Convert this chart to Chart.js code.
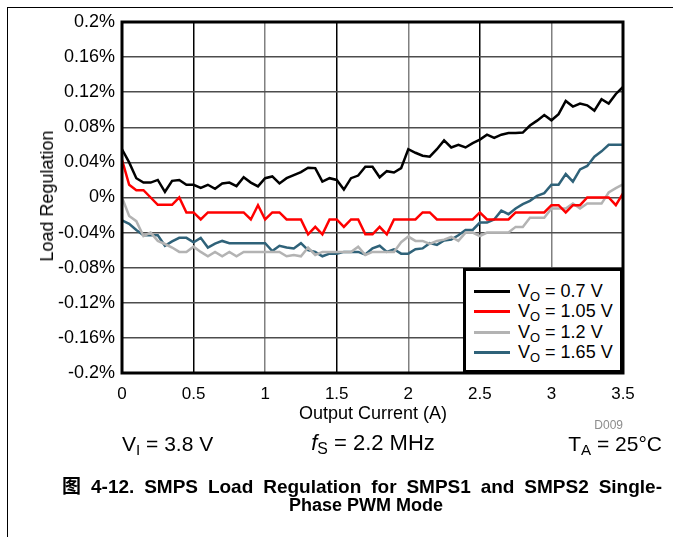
<!DOCTYPE html>
<html>
<head>
<meta charset="utf-8">
<script src="https://cdn.jsdelivr.net/npm/chart.js@4/dist/chart.umd.min.js"></script>
<style>
  html, body { margin: 0; padding: 0; background: #fff; }
  body { width: 673px; height: 537px; position: relative; overflow: hidden; font-family: "Liberation Sans", Arial, sans-serif; color: #000; }
  #c { position: absolute; left: 0; top: 0; }
  .t { position: absolute; white-space: nowrap; line-height: 1; }
  .frameTop { position: absolute; left: 7px; top: 7px; width: 666px; height: 1px; background: #000; }
  .frameLeft { position: absolute; left: 7px; top: 7px; width: 1px; height: 530px; background: #000; }
  #legend { position: absolute; left: 463px; top: 268px; width: 154px; height: 99px; background: #fff; border: 3px solid #000; }
  .lrow { position: absolute; left: 0; height: 20px; width: 150px; }
  .lline { position: absolute; left: 8px; top: 9px; width: 36px; height: 3px; }
  .ltxt { position: absolute; left: 52px; top: 1px; font-size: 18px; line-height: 1; white-space: nowrap; }
  sub { font-size: 0.72em; vertical-align: -0.28em; line-height: 0; }
  .cap { position: absolute; font-weight: bold; font-size: 19px; line-height: 18px; white-space: nowrap;
         font-family: "Liberation Sans", Arial, "Noto Sans CJK SC", sans-serif; }
  #cap1 { left: 662px; top: 478px; transform: translateX(-100%); word-spacing: 4.6px; }
  #cap2 { left: 366px; top: 496px; transform: translateX(-50%); font-size: 18px; }
</style>
</head>
<body>
<canvas id="c" width="673" height="537"></canvas>
<div class="frameTop"></div>
<div class="frameLeft"></div>
<div class="cap" id="cap1">图 4-12. SMPS Load Regulation for SMPS1 and SMPS2 Single-</div>
<div class="cap" id="cap2">Phase PWM Mode</div>

<script>
// ---------------- DATA ----------------
const currents = [0, 0.05, 0.1, 0.15, 0.2, 0.25, 0.3, 0.35, 0.4, 0.45,
  0.5, 0.55, 0.6, 0.65, 0.7, 0.75, 0.8, 0.85, 0.9, 0.95,
  1.0, 1.05, 1.1, 1.15, 1.2, 1.25, 1.3, 1.35, 1.4, 1.45,
  1.5, 1.55, 1.6, 1.65, 1.7, 1.75, 1.8, 1.85, 1.9, 1.95,
  2.0, 2.05, 2.1, 2.15, 2.2, 2.25, 2.3, 2.35, 2.4, 2.45,
  2.5, 2.55, 2.6, 2.65, 2.7, 2.75, 2.8, 2.85, 2.9, 2.95,
  3.0, 3.05, 3.1, 3.15, 3.2, 3.25, 3.3, 3.35, 3.4, 3.45, 3.5];

const vo070 = [0.055, 0.040, 0.022, 0.017, 0.017, 0.020, 0.0065, 0.019, 0.020, 0.0145,
  0.0145, 0.011, 0.0145, 0.010, 0.016, 0.017, 0.013, 0.023, 0.017, 0.0126,
  0.022, 0.024, 0.016, 0.022, 0.0255, 0.029, 0.034, 0.0335, 0.018, 0.022,
  0.020, 0.009, 0.022, 0.025, 0.035, 0.035, 0.023, 0.030, 0.0285, 0.0335,
  0.055, 0.051, 0.0476, 0.0465, 0.055, 0.065, 0.057, 0.060, 0.057, 0.062,
  0.066, 0.0716, 0.068, 0.0716, 0.0735, 0.0735, 0.074, 0.082, 0.0876, 0.094,
  0.088, 0.095, 0.110, 0.1036, 0.107, 0.105, 0.099, 0.112, 0.107, 0.118, 0.126];

const vo105 = [0.043, 0.0145, 0.0084, 0.0084, 0, -0.0084, -0.0084, -0.0084, 0, -0.017,
  -0.017, -0.025, -0.017, -0.017, -0.017, -0.017, -0.017, -0.017, -0.025, -0.0088,
  -0.025, -0.017, -0.017, -0.025, -0.025, -0.025, -0.042, -0.0335, -0.042, -0.025,
  -0.025, -0.0335, -0.025, -0.025, -0.042, -0.042, -0.0335, -0.042, -0.025, -0.025,
  -0.025, -0.025, -0.017, -0.017, -0.025, -0.025, -0.025, -0.025, -0.025, -0.025,
  -0.017, -0.025, -0.025, -0.025, -0.025, -0.017, -0.017, -0.017, -0.017, -0.017,
  -0.0088, -0.0088, -0.017, -0.0088, -0.0088, 0, 0, 0, 0, -0.0088, 0.0046];

const vo120 = [0, -0.021, -0.027, -0.044, -0.040, -0.0495, -0.053, -0.057, -0.062, -0.062,
  -0.056, -0.062, -0.067, -0.062, -0.067, -0.062, -0.067, -0.062, -0.062, -0.062,
  -0.062, -0.062, -0.062, -0.067, -0.0655, -0.067, -0.057, -0.0655, -0.062, -0.062,
  -0.062, -0.062, -0.062, -0.056, -0.0655, -0.062, -0.062, -0.062, -0.062, -0.051,
  -0.0446, -0.0495, -0.0495, -0.053, -0.0495, -0.048, -0.045, -0.0495, -0.040, -0.040,
  -0.044, -0.040, -0.040, -0.040, -0.040, -0.0335, -0.0335, -0.023, -0.023, -0.023,
  -0.0126, -0.0126, -0.0126, -0.0069, -0.0126, -0.0069, -0.0069, -0.0069, 0.0057, 0.0107, 0.015];

const vo165 = [-0.026, -0.030, -0.037, -0.043, -0.043, -0.043, -0.055, -0.050, -0.046, -0.046,
  -0.051, -0.046, -0.057, -0.0526, -0.0495, -0.052, -0.052, -0.052, -0.052, -0.052,
  -0.052, -0.061, -0.055, -0.057, -0.058, -0.052, -0.060, -0.062, -0.067, -0.064,
  -0.064, -0.062, -0.062, -0.062, -0.065, -0.058, -0.055, -0.062, -0.059, -0.064,
  -0.064, -0.059, -0.058, -0.052, -0.054, -0.049, -0.048, -0.043, -0.037, -0.037,
  -0.0286, -0.0286, -0.025, -0.015, -0.019, -0.0126, -0.0076, -0.0038, 0.002, 0.005,
  0.0145, 0.0145, 0.0267, 0.018, 0.032, 0.036, 0.0465, 0.0526, 0.060, 0.060, 0.060];

const seriesNames = ['0.7 V', '1.05 V', '1.2 V', '1.65 V'];
const seriesValues = [vo070, vo105, vo120, vo165];
const seriesColors = ['#000000', '#ff0000', '#b3b3b3', '#2f6279'];

const xTickValues = [0, 0.5, 1, 1.5, 2, 2.5, 3, 3.5];
const yTickValues = [-0.2, -0.16, -0.12, -0.08, -0.04, 0, 0.04, 0.08, 0.12, 0.16, 0.2];
const xTitle = 'Output Current (A)';
const yTitle = 'Load Regulation';

// ---------------- CHART ----------------
const datasets = seriesValues.map((vals, k) => ({
  label: 'VO = ' + seriesNames[k],
  data: vals.map((v, i) => ({ x: currents[i], y: v })),
  borderColor: seriesColors[k],
  backgroundColor: seriesColors[k],
  borderWidth: 2.5,
  pointRadius: 0,
  tension: 0,
  fill: false
}));

const framePlugin = {
  id: 'frame',
  afterDatasetsDraw(chart) {
    const { ctx, chartArea: a } = chart;
    ctx.save();
    ctx.strokeStyle = '#000';
    ctx.lineWidth = 3;
    ctx.strokeRect(a.left, a.top, a.right - a.left, a.bottom - a.top);
    ctx.restore();
  }
};

const fam = '"Liberation Sans", Arial, sans-serif';

new Chart(document.getElementById('c'), {
  type: 'line',
  data: { datasets },
  options: {
    responsive: false,
    animation: false,
    devicePixelRatio: 1,
    layout: { padding: { left: 0, top: 22, right: 50, bottom: 0 } },
    plugins: { legend: { display: false }, tooltip: { enabled: false } },
    scales: {
      x: {
        type: 'linear',
        min: xTickValues[0],
        max: xTickValues[xTickValues.length - 1],
        afterBuildTicks: s => { s.ticks = xTickValues.map(v => ({ value: v })); },
        afterFit: s => { s.height = 164; },
        ticks: {
          font: { family: fam, size: 17 }, color: '#000', padding: 11,
          callback: v => String(v)
        },
        grid: {
          drawTicks: false,
          lineWidth: 1.5,
          color: c => (Math.round(c.tick.value * 2) % 2 === 1) ? '#000000' : '#808080'
        },
        border: { display: false }
      },
      y: {
        min: yTickValues[0],
        max: yTickValues[yTickValues.length - 1],
        afterBuildTicks: s => { s.ticks = yTickValues.map(v => ({ value: v })); },
        afterFit: s => { s.width = 122; },
        ticks: {
          font: { family: fam, size: 18 }, color: '#000', padding: 7,
          callback: v => parseFloat(Number(v).toFixed(2)) + '%'
        },
        grid: { drawTicks: false, lineWidth: 1.5, color: '#4d4d4d' },
        border: { display: false }
      }
    }
  },
  plugins: [framePlugin]
});

// ---------------- TEXT OVERLAYS ----------------
function addText(html, css) {
  const d = document.createElement('div');
  d.className = 't';
  d.innerHTML = html;
  Object.assign(d.style, css);
  document.body.appendChild(d);
  return d;
}

// axis titles
addText(xTitle, { left: '373px', top: '413px', fontSize: '18px', transform: 'translate(-50%,-50%)' });
addText(yTitle, { left: '47px', top: '196px', fontSize: '18px', transform: 'translate(-50%,-50%) rotate(-90deg)' });
addText('D009', { left: '623px', top: '425px', fontSize: '12px', color: '#8c8c8c', transform: 'translate(-100%,-50%)' });

// conditions
addText('V<sub>I</sub> = 3.8 V', { left: '122px', top: '443px', fontSize: '21px', transform: 'translate(0,-50%)' });
addText('<i>f</i><sub>S</sub> = 2.2 MHz', { left: '373px', top: '443px', fontSize: '22px', transform: 'translate(-50%,-50%)' });
addText('T<sub>A</sub> = 25°C', { left: '662px', top: '443px', fontSize: '21px', transform: 'translate(-100%,-50%)' });

// legend (inside plot, bottom-right)
const lg = document.createElement('div');
lg.id = 'legend';
seriesNames.forEach((name, k) => {
  const row = document.createElement('div');
  row.className = 'lrow';
  row.style.top = (10 + k * 20.3) + 'px';
  row.innerHTML = '<div class="lline" style="background:' + seriesColors[k] + '"></div>' +
    '<div class="ltxt">V<sub>O</sub> = ' + name + '</div>';
  lg.appendChild(row);
});
document.body.appendChild(lg);
</script>
</body>
</html>
